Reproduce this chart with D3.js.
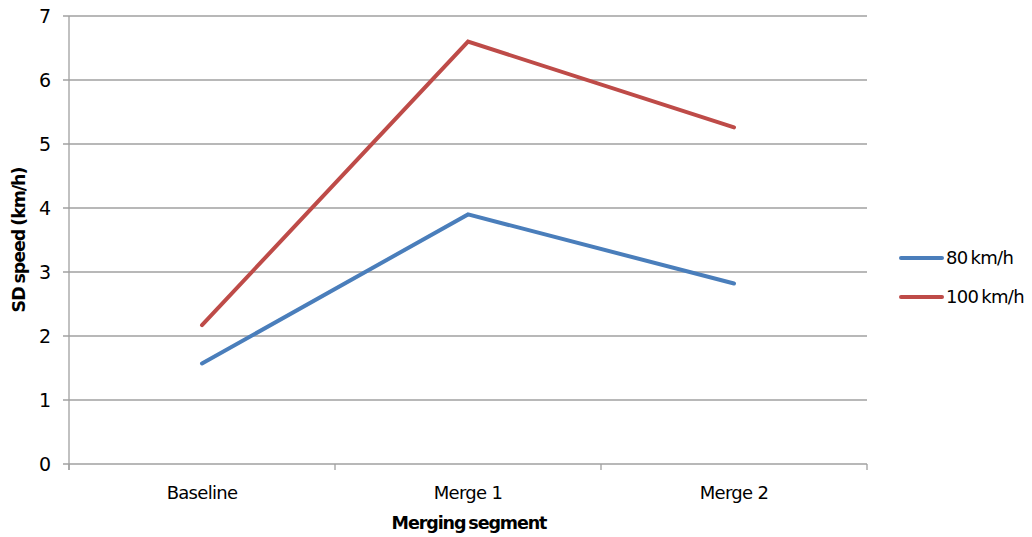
<!DOCTYPE html>
<html>
<head>
<meta charset="utf-8">
<script src="https://cdn.jsdelivr.net/npm/d3@7"></script>
<style>
  html, body { margin: 0; padding: 0; background: #fff; }
  svg { display: block; font-family: "DejaVu Sans", sans-serif; }
</style>
</head>
<body>
<svg id="chart" width="1032" height="537"></svg>
<script>
// Standard deviation of speed per merging segment
const categories = ["Baseline", "Merge 1", "Merge 2"];
const series80 = [1.57, 3.90, 2.82];
const series100 = [2.17, 6.60, 5.26];
const seriesNames = ["80 km/h", "100 km/h"];
const yTicks = [0, 1, 2, 3, 4, 5, 6, 7];

const colors = ["#4a7ebb", "#be4b48"];
const seriesData = [series80, series100];

const svg = d3.select("#chart");
const margin = { left: 69, right: 1032 - 867, top: 16, bottom: 537 - 464 };
const width = 1032 - margin.left - margin.right;
const height = 537 - margin.top - margin.bottom;

const g = svg.append("g").attr("transform", `translate(${margin.left},${margin.top})`);

const x = d3.scaleBand().domain(categories).range([0, width]);
const y = d3.scaleLinear().domain([0, 7]).range([height, 0]);

// Horizontal gridlines (extend left to form tick marks)
g.append("g")
  .selectAll("line")
  .data(yTicks)
  .join("line")
  .attr("x1", -6)
  .attr("x2", width)
  .attr("y1", d => y(d))
  .attr("y2", d => y(d))
  .attr("stroke", "#a0a0a0")
  .attr("stroke-width", 1.3);

// Y axis line
g.append("line")
  .attr("x1", 0).attr("x2", 0)
  .attr("y1", 0).attr("y2", height + 6)
  .attr("stroke", "#a0a0a0").attr("stroke-width", 1.3);

// Y tick labels
g.append("g")
  .selectAll("text")
  .data(yTicks)
  .join("text")
  .attr("x", -18)
  .attr("y", d => y(d))
  .attr("dy", "0.35em")
  .attr("text-anchor", "end")
  .attr("font-size", 19)
  .attr("fill", "#000")
  .text(d => d);

// X category tick marks at band boundaries
const bounds = [0, ...categories.map(c => x(c) + x.bandwidth())];
g.append("g")
  .selectAll("line")
  .data(bounds)
  .join("line")
  .attr("x1", d => d).attr("x2", d => d)
  .attr("y1", height).attr("y2", height + 6)
  .attr("stroke", "#a0a0a0").attr("stroke-width", 1.3);

// X category labels
g.append("g")
  .selectAll("text")
  .data(categories)
  .join("text")
  .attr("x", d => x(d) + x.bandwidth() / 2)
  .attr("y", height + 35)
  .attr("text-anchor", "middle")
  .attr("font-size", 18)
  .attr("letter-spacing", "-0.7px")
  .attr("fill", "#000")
  .text(d => d);

// Series lines
const line = d3.line()
  .x((d, i) => x(categories[i]) + x.bandwidth() / 2)
  .y(d => y(d));

g.append("g")
  .selectAll("path")
  .data(seriesData)
  .join("path")
  .attr("d", d => line(d))
  .attr("fill", "none")
  .attr("stroke", (d, i) => colors[i])
  .attr("stroke-width", 4)
  .attr("stroke-linecap", "round")
  .attr("stroke-linejoin", "miter");

// Axis titles
svg.append("text")
  .attr("x", 469)
  .attr("y", 529)
  .attr("text-anchor", "middle")
  .attr("font-size", 17.5)
  .attr("font-weight", "bold")
  .attr("letter-spacing", "-1.1px")
  .attr("word-spacing", "-2px")
  .text("Merging segment");

svg.append("text")
  .attr("transform", "translate(25,240) rotate(-90)")
  .attr("text-anchor", "middle")
  .attr("font-size", 17.5)
  .attr("font-weight", "bold")
  .attr("letter-spacing", "-1.1px")
  .attr("word-spacing", "-1px")
  .text("SD speed (km/h)");

// Legend
const legend = svg.append("g");
const legendY = [258, 297];
seriesNames.forEach((name, i) => {
  legend.append("line")
    .attr("x1", 901).attr("x2", 942)
    .attr("y1", legendY[i]).attr("y2", legendY[i])
    .attr("stroke", colors[i])
    .attr("stroke-width", 4)
    .attr("stroke-linecap", "round");
  legend.append("text")
    .attr("x", 946)
    .attr("y", legendY[i])
    .attr("dy", "0.35em")
    .attr("font-size", 18)
    .attr("letter-spacing", "-0.7px")
    .attr("word-spacing", "-2px")
    .text(name);
});
</script>
</body>
</html>
